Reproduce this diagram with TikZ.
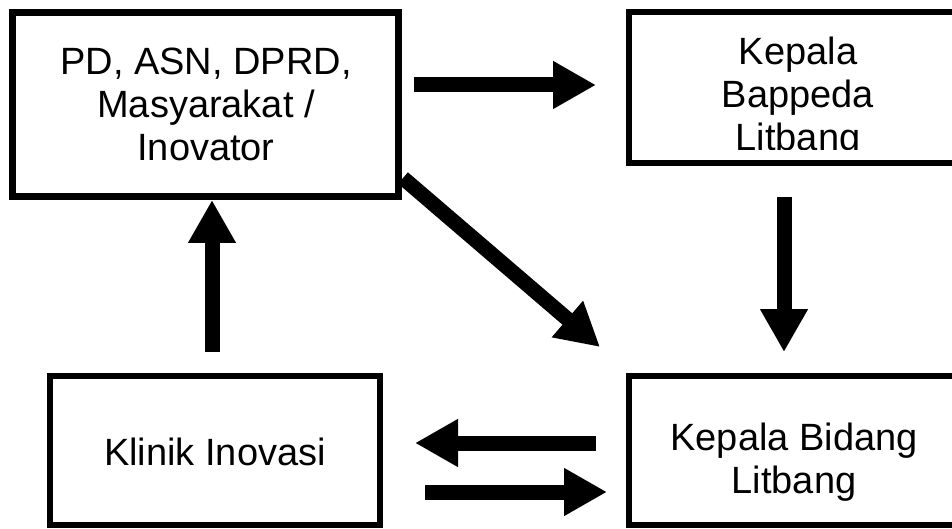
\documentclass[tikz,border=0pt]{standalone}
\usepackage{fontspec}
\setmainfont{Liberation Sans}
\usetikzlibrary{arrows.meta}
\tikzset{
  box/.style={draw=black, line width=6.5pt, rectangle, inner sep=0pt, fill=white},
  lbl/.style={anchor=north, inner sep=0pt, align=center, text=black},
  bigarrow/.style={line width=15pt, draw=black, line cap=butt,
    -{Triangle[length=43pt,width=45pt]}},
}
\begin{document}
\begin{tikzpicture}[x=1pt,y=-1pt]
\clip (0,0) rectangle (952,529);
\fill[white] (0,0) rectangle (952,529);
\fontsize{38}{43}\selectfont
% boxes
\node[box, minimum width=386pt, minimum height=184pt] (A) at (205.5,104.5) {};
\node[box, minimum width=334pt, minimum height=151pt] (B) at (796,87.5) {};
\node[box, minimum width=330pt, minimum height=149pt] (C) at (215,450.5) {};
\node[box, minimum width=334pt, minimum height=149pt] (D) at (796,450.5) {};
% texts
\node[lbl] (At) at (206,48) {\fontsize{38}{44}\selectfont PD, ASN, DPRD,\\Masyarakat /\\Inovator};
\begin{scope}
\clip (600,20) rectangle (952,150);
\node[lbl] (Bt) at (798,37) {\fontsize{38}{42.5}\selectfont Kepala\\Bappeda\\Litbang};
\end{scope}
\node[lbl] (Ct) at (215,438) {Klinik Inovasi};
\node[lbl] (Dt) at (794,423) {\fontsize{38}{40}\selectfont Kepala Bidang\\Litbang};
% arrow end points
\coordinate (ab1) at (414,85);  \coordinate (ab2) at (596,85);
\coordinate (bd1) at (784,197); \coordinate (bd2) at (784,352);
\coordinate (ad1) at (403,178); \coordinate (ad2) at (600,347);
\coordinate (dc1) at (596,443); \coordinate (dc2) at (415,443);
\coordinate (cd1) at (425,492); \coordinate (cd2) at (607,492);
\coordinate (ca1) at (212,352); \coordinate (ca2) at (212,200);
% arrows
\draw[bigarrow] (ab1) -- (ab2);
\draw[bigarrow] (bd1) -- (bd2);
\draw[bigarrow] (ad1) -- (ad2);
\draw[bigarrow] (dc1) -- (dc2);
\draw[bigarrow] (cd1) -- (cd2);
\draw[bigarrow] (ca1) -- (ca2);
\end{tikzpicture}
\end{document}
